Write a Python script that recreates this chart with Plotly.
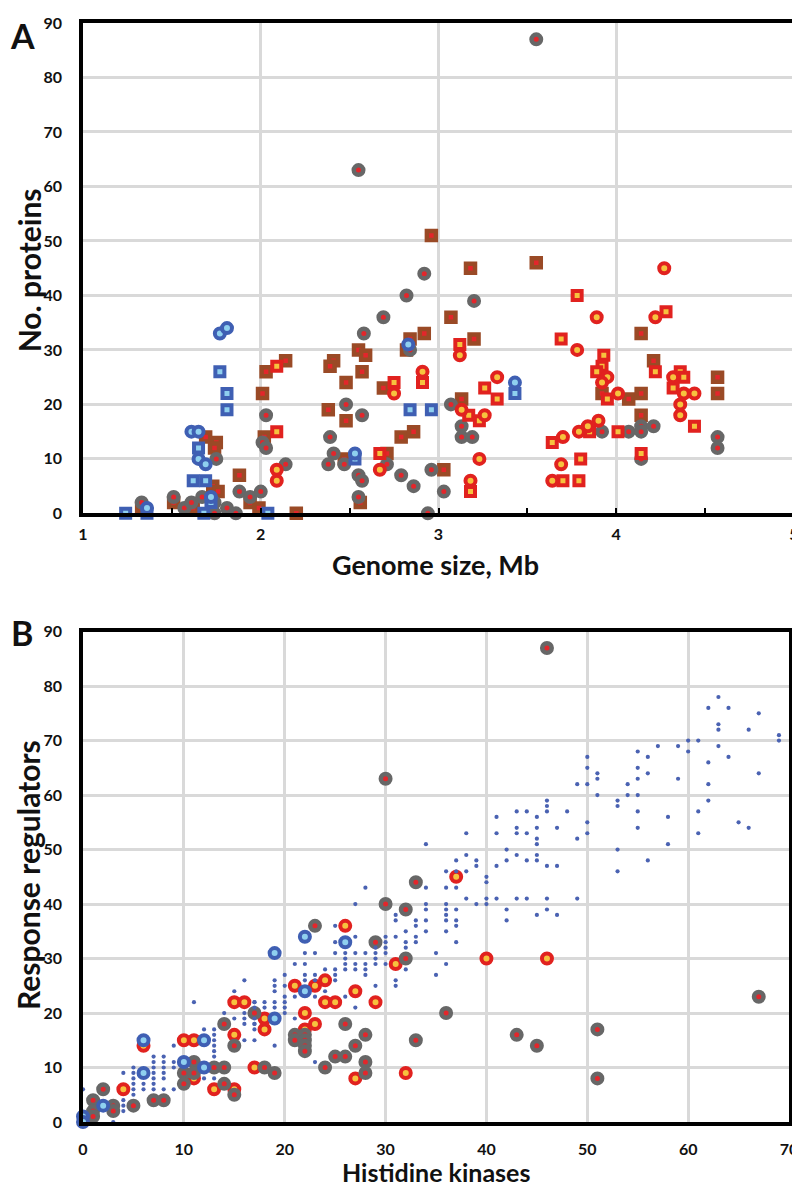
import plotly.graph_objects as go

# ---------------- Panel A data (genome size, Mb vs No. proteins) ----------------
a_blue_circle_x = [1.77, 1.81, 1.61, 1.65, 1.65, 1.69, 1.72, 1.36, 2.83, 2.53, 3.43]
a_blue_circle_y = [33, 34, 15, 15, 10, 9, 3, 1, 31, 11, 24]

a_blue_square_x = [1.77, 1.81, 1.81, 1.65, 1.62, 1.69, 1.72, 1.68, 1.24, 1.36, 2.04, 2.84, 2.96, 2.53, 3.43]
a_blue_square_y = [26, 22, 19, 12, 6, 6, 2, 0, 0, 0, 0, 19, 19, 10, 22]

a_brown_x = [2.03, 2.14, 2.01, 2.02, 1.69, 1.75, 1.74, 1.88, 1.73, 1.76, 1.94, 1.99, 1.33, 1.51, 1.62, 2.20,
             2.96, 3.18, 3.55, 3.07, 2.92, 2.84, 3.20, 2.82, 2.55, 2.59, 2.41, 2.39, 2.57, 2.48, 2.69, 2.38,
             2.48, 3.13, 2.79, 2.86, 2.47, 2.71, 3.03, 2.56,
             4.14, 4.21, 4.57, 4.57, 3.92, 4.07, 4.14, 4.14]
a_brown_y = [26, 28, 22, 14, 14, 13, 12, 7, 5, 4, 2, 1, 1, 2, 1, 0,
             51, 45, 46, 36, 33, 32, 32, 30, 30, 29, 28, 27, 26, 24, 23, 19,
             17, 21, 14, 15, 10, 11, 8, 2,
             33, 28, 25, 22, 22, 21, 22, 18]

a_gray_x = [2.03, 2.01, 2.03, 2.14, 1.75, 1.88, 1.94, 2.00, 1.33, 1.51, 1.57, 1.61, 1.67, 1.74, 1.74, 1.81, 1.86,
            2.92, 2.82, 3.20, 2.69, 2.58, 2.84, 2.48, 2.57, 3.07, 3.13, 3.13, 3.19, 2.39, 2.41, 2.38, 2.47,
            2.71, 2.55, 2.57, 2.79, 2.86, 2.96, 3.03, 2.55, 2.94,
            3.55, 2.55,
            3.92, 4.07, 4.14, 4.21, 4.14, 4.57, 4.57, 4.14]
a_gray_y = [18, 13, 12, 9, 10, 4, 3, 4, 2, 3, 1, 2, 3, 2, 0, 1, 0,
            44, 40, 39, 36, 33, 30, 20, 18, 20, 16, 14, 14, 14, 11, 9, 9,
            9, 7, 6, 7, 5, 8, 4, 3, 0,
            87, 63,
            15, 15, 16, 16, 15, 14, 12, 10]

a_red_circle_x = [2.09, 2.09, 3.12, 2.91, 2.75, 3.33, 3.13, 3.26, 2.67, 3.23, 3.18,
                  4.27, 4.22, 3.89, 3.78, 3.95, 3.92, 4.32, 4.38, 4.44, 4.36, 4.36, 4.01, 3.90, 3.84, 3.79,
                  3.70, 3.69, 3.64]
a_red_circle_y = [8, 6, 29, 26, 22, 25, 19, 18, 8, 10, 6,
                  45, 36, 36, 30, 25, 24, 25, 22, 22, 20, 18, 22, 17, 16, 15,
                  14, 9, 6]

a_red_square_x = [2.09, 2.09, 3.12, 2.91, 2.75, 3.26, 3.33, 3.17, 3.23, 2.67, 3.18,
                  3.78, 4.28, 3.69, 3.93, 3.92, 3.89, 4.22, 4.36, 4.38, 4.32, 3.95, 4.44, 3.85, 4.01, 3.64,
                  3.80, 4.14, 3.70, 3.79]
a_red_square_y = [27, 15, 31, 24, 24, 23, 21, 18, 17, 11, 4,
                  40, 37, 32, 29, 27, 26, 26, 26, 25, 23, 21, 16, 15, 15, 13,
                  10, 11, 6, 6]

a_x_ticks = [1, 2, 3, 4, 5]
a_y_ticks = [0, 10, 20, 30, 40, 50, 60, 70, 80, 90]

# ---------------- Panel B data (histidine kinases vs response regulators) ----------------
b_gray_x = [46, 30, 33, 30, 32, 23, 29, 32, 36, 67, 33, 43, 45, 51, 51, 17, 26, 21, 22, 21, 22, 22, 22,
            28, 27, 15, 25, 26, 28, 24, 18, 19, 28, 15, 14, 11, 10, 11, 10, 13, 14, 14, 2, 5, 7, 8,
            1, 3, 3, 1, 1]
b_gray_y = [87, 63, 44, 40, 39, 36, 33, 30, 20, 23, 15, 16, 14, 17, 8, 20, 18, 16, 16, 15, 15, 14, 13,
            16, 14, 14, 12, 12, 11, 10, 10, 9, 9, 5, 18, 11, 9, 9, 7, 10, 10, 7, 6, 3, 4, 4,
            4, 3, 2, 2, 1]

b_red_x = [37, 40, 46, 26, 31, 24, 23, 21, 27, 24, 25, 29, 15, 16, 18, 18, 22, 23, 22, 17, 27, 32,
           15, 15, 6, 10, 11, 11, 13, 4]
b_red_y = [45, 30, 30, 36, 29, 26, 25, 25, 24, 22, 22, 22, 22, 22, 19, 17, 20, 18, 17, 10, 8, 9,
           6, 16, 14, 15, 15, 8, 6, 6]

b_blue_x = [22, 26, 19, 22, 19, 6, 12, 10, 12, 6, 2, 0, 0]
b_blue_y = [34, 33, 31, 24, 19, 15, 15, 11, 10, 9, 3, 1, 0]

b_dot_x = [63, 62, 64, 67, 63, 63, 66, 69, 69, 60, 61, 57, 59, 63, 60, 55, 56, 64, 50, 62, 50, 55, 51, 51,
           56, 67, 55, 59, 49, 50, 54, 62, 51, 54, 55, 46, 46, 46, 53, 53, 62, 43, 44, 48, 55, 61, 45, 58,
           50, 65, 43, 43, 44, 45, 47, 50, 55, 61, 66, 45, 45, 49, 58, 42, 53, 43, 45, 42, 44, 45, 56, 46,
           47, 53,
           38, 37, 39, 39, 41, 36, 37, 38, 40, 40, 34, 36, 37, 38, 40, 41, 43, 44, 46, 49, 34, 36, 39, 40,
           34, 36, 37, 42, 46, 36, 45, 47, 33, 34, 36, 37, 42, 33, 37, 34, 36, 33, 33, 37, 35, 36, 35,
           41, 38, 41, 34, 28, 27, 31, 31, 25, 32, 25, 27, 30, 31, 30, 32, 30, 32,
           30, 29, 29, 29, 29, 28, 26, 27, 26, 26, 26, 25, 22, 23, 28, 28, 28, 27, 27, 30, 32, 31, 31, 29,
           21, 22, 20, 22, 23, 24, 25, 25, 25, 19, 19, 19, 20, 22, 23, 20, 21, 23, 26, 17, 18, 19, 20,
           20, 20, 19, 18, 17, 16, 16, 17, 17, 21, 16, 17, 19, 23, 27, 24,
           16, 15, 11, 17, 14, 15, 16, 17, 17, 13, 13, 13, 13, 13, 13, 12, 9, 7, 8, 7, 8, 8, 7, 9, 9, 5,
           4, 5, 6, 7, 7, 7, 8, 8, 5, 5, 5, 5, 4, 4, 4, 6, 7, 8, 9, 0, 3, 13, 12]
b_dot_y = [78, 76, 76, 75, 73, 72, 72, 71, 70, 70, 70, 69, 69, 69, 68, 68, 67, 67, 67, 66, 65, 65, 64, 63,
           64, 64, 63, 63, 62, 62, 62, 62, 60, 60, 60, 59, 58, 57, 59, 58, 59, 57, 57, 57, 57, 57, 56, 56,
           55, 55, 54, 53, 53, 54, 54, 53, 54, 53, 54, 52, 51, 52, 51, 50, 50, 49, 49, 48, 48, 48, 48, 47,
           47, 46,
           49, 48, 48, 47, 47, 46, 46, 46, 45, 44, 43, 43, 43, 41, 41, 41, 41, 41, 41, 41, 40, 40, 40, 40,
           39, 39, 39, 39, 39, 38, 38, 38, 37, 37, 37, 37, 37, 36, 36, 35, 35, 34, 33, 33, 31, 29, 27,
           56, 53, 53, 51, 43, 40, 38, 37, 36, 35, 33, 34, 34, 34, 33, 33, 32, 32,
           31, 32, 31, 30, 29, 31, 31, 31, 30, 29, 28, 31, 31, 31, 29, 28, 27, 29, 28, 29, 28, 26, 25, 25,
           29, 29, 27, 27, 27, 28, 28, 27, 26, 26, 25, 24, 25, 26, 26, 23, 23, 23, 23, 22, 22, 22, 22,
           21, 20, 21, 21, 21, 20, 18, 18, 17, 19, 15, 15, 14, 11, 21, 24,
           26, 24, 22, 22, 20, 19, 19, 19, 18, 17, 16, 15, 14, 13, 12, 17, 14, 12, 12, 11, 11, 10, 10, 11, 10, 10,
           9, 9, 7, 9, 8, 7, 9, 8, 8, 7, 6, 5, 4, 3, 2, 6, 6, 6, 6, 6, 0, 8, 8]

b_x_ticks = [0, 10, 20, 30, 40, 50, 60, 70]
b_y_ticks = [0, 10, 20, 30, 40, 50, 60, 70, 80, 90]

# ---------------- Styles ----------------
GRAY = "#676767"
RED_DOT = "#e3262b"
BROWN = "#9a4a26"
RED = "#e1221f"
YELLOW = "#f7c23e"
BLUE = "#3f5fb3"
LBLUE = "#8fd0ef"
DOT = "#4a62b2"
FONT = "Lato"


def ring(x, y, symbol, outer, inner, xa, ya, size=9.5, lw=4.5):
    return go.Scatter(x=x, y=y, mode="markers", xaxis=xa, yaxis=ya, cliponaxis=False,
                      hoverinfo="skip",
                      marker=dict(symbol=symbol, size=size, color=inner,
                                  line=dict(color=outer, width=lw)))


fig = go.Figure()
# Panel A
fig.add_trace(ring(a_brown_x, a_brown_y, "square", BROWN, RED_DOT, "x", "y", size=9, lw=4.5))
fig.add_trace(ring(a_gray_x, a_gray_y, "circle", GRAY, RED_DOT, "x", "y"))
fig.add_trace(ring(a_red_square_x, a_red_square_y, "square", RED, YELLOW, "x", "y", size=9, lw=4))
fig.add_trace(ring(a_red_circle_x, a_red_circle_y, "circle", RED, YELLOW, "x", "y", size=10, lw=4))
fig.add_trace(ring(a_blue_square_x, a_blue_square_y, "square", BLUE, LBLUE, "x", "y", size=9, lw=4))
fig.add_trace(ring(a_blue_circle_x, a_blue_circle_y, "circle", BLUE, LBLUE, "x", "y", size=10, lw=4))
# Panel B
fig.add_trace(ring(b_red_x, b_red_y, "circle", RED, YELLOW, "x2", "y2", size=10, lw=4))
fig.add_trace(ring(b_gray_x, b_gray_y, "circle", GRAY, RED_DOT, "x2", "y2"))
fig.add_trace(ring(b_blue_x, b_blue_y, "circle", BLUE, LBLUE, "x2", "y2", size=10, lw=4))
fig.add_trace(go.Scatter(x=b_dot_x, y=b_dot_y, mode="markers", xaxis="x2", yaxis="y2",
                         cliponaxis=False, hoverinfo="skip",
                         marker=dict(symbol="circle", size=4.2, color=DOT)))

tickfont = dict(family=FONT, size=16, color="#111111", weight="bold")
grid = dict(showgrid=True, gridcolor="#d9d9d9", gridwidth=2.5, zeroline=False,
            showline=True, linecolor="black", linewidth=3.5, mirror=True, tickfont=tickfont)

fig.update_layout(
    width=800, height=1188,
    margin=dict(l=75, r=5, t=9, b=74),
    paper_bgcolor="white", plot_bgcolor="white",
    showlegend=False,
    xaxis=dict(domain=[0, 1], range=[1, 5], anchor="y", tickvals=a_x_ticks,
               ticks="inside", ticklen=6, tickwidth=2, tickcolor="black",
               minor=dict(dtick=0.5, ticks="inside", ticklen=6, tickwidth=2, tickcolor="black",
                          showgrid=False),
               ticklabelstandoff=4, **grid),
    yaxis=dict(domain=[0.5538, 1], range=[0, 90], anchor="x", tickvals=a_y_ticks,
               ticks="", ticklabelstandoff=14, **grid),
    xaxis2=dict(domain=[0, 0.993], range=[0, 70], anchor="y2", tickvals=b_x_ticks,
                ticks="", ticklabelstandoff=10, **grid),
    yaxis2=dict(domain=[0, 0.4462], range=[0, 90], anchor="x2", tickvals=b_y_ticks,
                ticks="", ticklabelstandoff=14, **grid),
)


def px_x(p):
    return (p - 75) / 720


def px_y(p):
    return (1114 - p) / 1105


ytitle_font = dict(family=FONT, size=30, color="#111111", weight="bold")
xtitle_a_font = dict(family=FONT, size=27, color="#111111", weight="bold")
xtitle_b_font = dict(family=FONT, size=25, color="#111111", weight="bold")
letter_font = dict(family=FONT, size=34, color="#111111", weight="bold")
anns = [
    dict(text="A", x=px_x(14), y=px_y(22), font=letter_font),
    dict(text="B", x=px_x(13), y=px_y(622), font=letter_font),
    dict(text="No. proteins", x=px_x(20), y=px_y(258), font=ytitle_font, textangle=-90),
    dict(text="Response regulators", x=px_x(20), y=px_y(866), font=ytitle_font, textangle=-90),
    dict(text="Genome size, Mb", x=px_x(432), y=px_y(553), font=xtitle_a_font),
    dict(text="Histidine kinases", x=px_x(432), y=px_y(1164), font=xtitle_b_font),
]
for a in anns:
    fig.add_annotation(xref="paper", yref="paper", showarrow=False,
                       xanchor="center", yanchor="middle", **a)

fig.write_html("out.html")
